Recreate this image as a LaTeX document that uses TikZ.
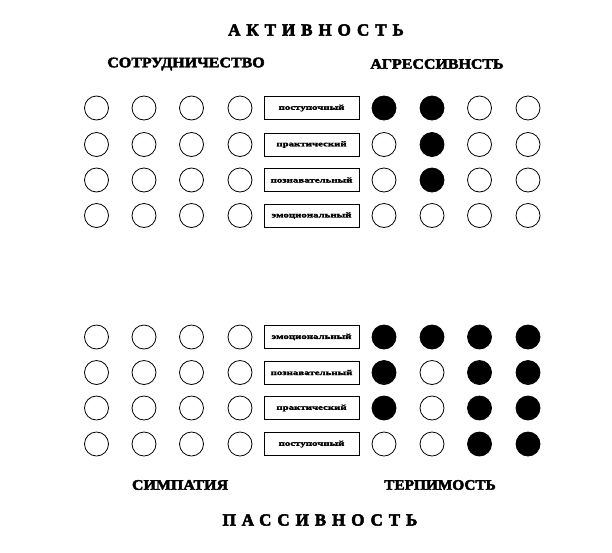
\documentclass[tikz,border=0pt]{standalone}
\usepackage{fontspec}
\setmainfont{Liberation Serif}
\begin{document}
\begin{tikzpicture}[x=1pt,y=-1pt,
  dot/.style={circle,draw=black,line width=0.8pt,minimum size=24pt,inner sep=0pt},
  full/.style={dot,fill=black},
  lbl/.style={draw=black,line width=0.8pt,minimum width=95pt,minimum height=23pt,inner sep=0pt,font=\fontsize{7.5}{8}\selectfont\bfseries\addfontfeatures{FakeStretch=1.45,FakeBold=2.5}},
  title/.style={font=\fontsize{17}{18}\selectfont\bfseries\addfontfeatures{LetterSpace=35,FakeBold=3}},
  sub/.style={font=\fontsize{14.5}{15}\selectfont\bfseries\addfontfeatures{FakeStretch=1.1,FakeBold=3}}]
\useasboundingbox (0,0) rectangle (612,552);
\node[title] (act) at (316,30) {АКТИВНОСТЬ};
\node[title] (pas) at (320,520) {ПАССИВНОСТЬ};
\node[sub] (coop) at (186,64) {СОТРУДНИЧЕСТВО};
\node[sub] (aggr) at (437,64) {АГРЕССИВНСТЬ};
\node[sub] (symp) at (180,485) {СИМПАТИЯ};
\node[sub,xscale=0.96] (tol) at (440,485) {ТЕРПИМОСТЬ};
% labels
\node[lbl] (t1) at (311.5,108) {поступочный};
\node[lbl] (t2) at (311.5,144.5) {практический};
\node[lbl] (t3) at (311.5,180) {познавательный};
\node[lbl] (t4) at (311.5,215.5) {эмоциональный};
\node[lbl] (b1) at (311.5,337) {эмоциональный};
\node[lbl] (b2) at (311.5,372.5) {познавательный};
\node[lbl] (b3) at (311.5,408) {практический};
\node[lbl] (b4) at (311.5,444) {поступочный};
% left circles
\foreach \r/\y in {1/108,2/144.5,3/180,4/215.5,5/337,6/372.5,7/408,8/444}{
  \foreach \c/\x in {1/96.5,2/144,3/191.5,4/240}{
    \node[dot] (L\r\c) at (\x,\y) {};
  }
}
% right circles: filled pattern
\foreach \r/\y/\a/\b/\cc/\d in {1/108/1/1/0/0,2/144.5/0/1/0/0,3/180/0/1/0/0,4/215.5/0/0/0/0,5/337/1/1/1/1,6/372.5/1/0/1/1,7/408/1/0/1/1,8/444/0/0/1/1}{
  \foreach \c/\x/\f in {1/384/\a,2/432/\b,3/479.5/\cc,4/528/\d}{
    \ifnum\f=1 \node[full] (R\r\c) at (\x,\y) {};
    \else \node[dot] (R\r\c) at (\x,\y) {};\fi
  }
}
\end{tikzpicture}
\end{document}
